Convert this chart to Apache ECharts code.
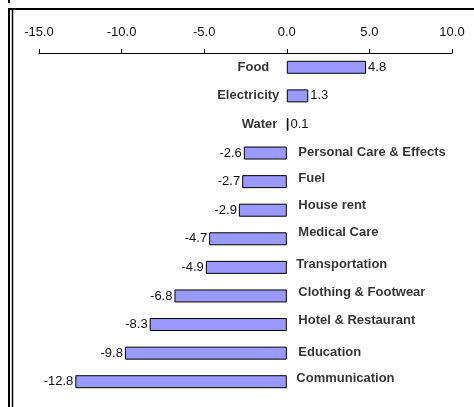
<!DOCTYPE html>
<html>
<head>
<meta charset="utf-8">
<script src="https://cdn.jsdelivr.net/npm/echarts@6/dist/echarts.min.js"></script>
<style>
  html, body { margin: 0; padding: 0; background: #fff; }
  #chart { width: 474px; height: 407px; }
</style>
</head>
<body>
<div id="chart"></div>
<script>
// Price change by expenditure group (percent)
const categories = [
  'Food', 'Electricity', 'Water', 'Personal Care & Effects', 'Fuel', 'House rent',
  'Medical Care', 'Transportation', 'Clothing & Footwear', 'Hotel & Restaurant',
  'Education', 'Communication'
];
const values = [4.8, 1.3, 0.1, -2.6, -2.7, -2.9, -4.7, -4.9, -6.8, -8.3, -9.8, -12.8];
const axisTicks = [-15, -10, -5, 0, 5, 10];

const FONT = 'Liberation Sans, Arial, sans-serif';

// Hand-placed nudges for the category name labels: [gap from zero line, vertical shift]
const nameNudge = [
  [17, 0], [7, 0], [9, 0], [11, -1], [11, -3], [11, -5],
  [11, -6], [9, -3], [11, -4], [11, -4], [11, -1], [9, -3]
];

const chart = echarts.init(document.getElementById('chart'), null, { renderer: 'canvas' });

// Value labels sit just beyond each bar's end
const barData = values.map(v => ({
  value: v,
  label: {
    show: true,
    position: v >= 0 ? 'right' : 'left',
    distance: 2,
    formatter: () => v.toFixed(1)
  }
}));

// Category names: left of zero for gains, right of zero for declines
const nameData = categories.map((c, i) => ({
  value: [0, c],
  label: {
    show: true,
    position: values[i] >= 0 ? 'left' : 'right',
    distance: nameNudge[i][0],
    offset: [0, nameNudge[i][1]],
    formatter: c
  }
}));

chart.setOption({
  animation: false,
  backgroundColor: '#fff',
  grid: { left: 39, right: 22, top: 53, bottom: 11 },
  xAxis: {
    type: 'value',
    position: 'top',
    min: axisTicks[0],
    max: axisTicks[axisTicks.length - 1],
    interval: 5,
    axisLine: { show: true, lineStyle: { color: '#000', width: 1 } },
    axisTick: { show: true, length: 4, lineStyle: { color: '#000' } },
    axisLabel: {
      margin: 14,
      color: '#111',
      fontFamily: FONT,
      fontSize: 13,
      formatter: v => v.toFixed(1)
    },
    splitLine: { show: false }
  },
  yAxis: {
    type: 'category',
    data: categories,
    inverse: true,
    axisLine: { show: false },
    axisTick: { show: false },
    axisLabel: { show: false },
    splitLine: { show: false }
  },
  series: [
    {
      type: 'bar',
      data: barData,
      barWidth: 13,
      itemStyle: { color: '#9999ff', borderColor: '#000', borderWidth: 1 },
      label: { color: '#111', fontFamily: FONT, fontSize: 13 }
    },
    {
      type: 'scatter',
      data: nameData,
      symbolSize: 1,
      itemStyle: { color: 'rgba(0,0,0,0)' },
      label: { color: '#000', fontFamily: FONT, fontSize: 13, fontWeight: 'bold' },
      z: 5
    }
  ],
  graphic: [
    { type: 'line', shape: { x1: 8, y1: 9, x2: 474, y2: 9 }, style: { stroke: '#000', lineWidth: 2 } },
    { type: 'line', shape: { x1: 9, y1: 8, x2: 9, y2: 407 }, style: { stroke: '#000', lineWidth: 2 } },
    { type: 'line', shape: { x1: 12.5, y1: 10, x2: 12.5, y2: 407 }, style: { stroke: '#000', lineWidth: 1.5 } },
    { type: 'line', shape: { x1: 9, y1: 0, x2: 9, y2: 3 }, style: { stroke: '#000', lineWidth: 2 } }
  ]
});
</script>
</body>
</html>
